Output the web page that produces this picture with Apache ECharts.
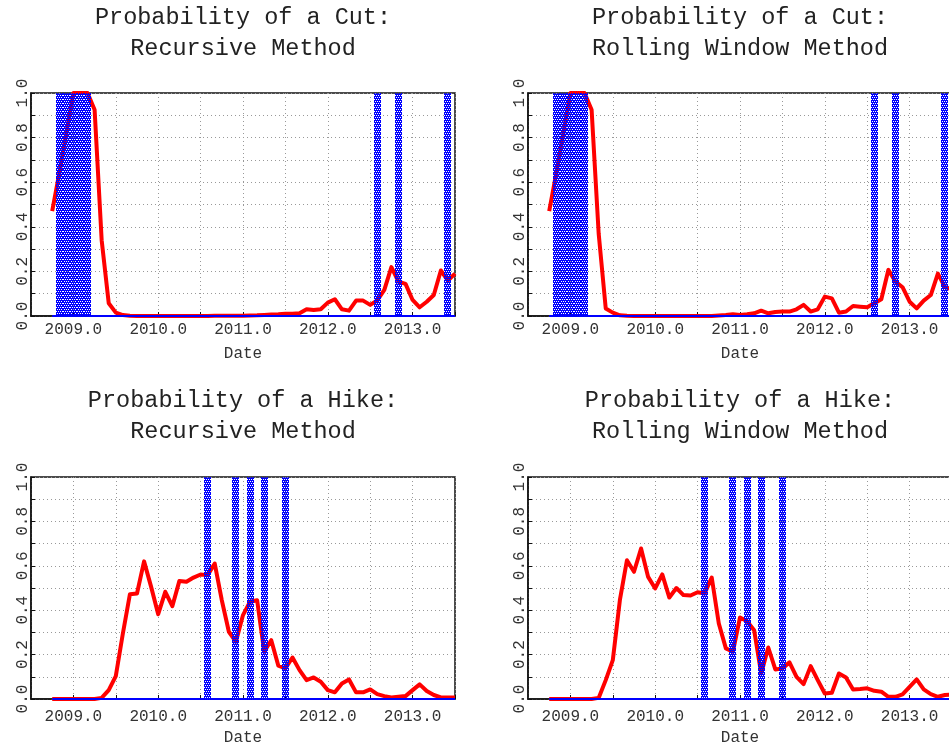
<!DOCTYPE html>
<html>
<head>
<meta charset="utf-8">
<script src="https://cdn.jsdelivr.net/npm/echarts@6/dist/echarts.min.js"></script>
<style>
html,body{margin:0;padding:0;background:#fff;}
#chart{width:949px;height:748px;}
</style>
</head>
<body>
<div id="chart"></div>
<script>
// Monthly observation dates (decimal years), Oct 2008 .. Jul 2013
const dates = [
  2008.75, 2008+10/12, 2008+11/12,
  2009, 2009+1/12, 2009+2/12, 2009+3/12, 2009+4/12, 2009+5/12, 2009+6/12, 2009+7/12, 2009+8/12, 2009+9/12, 2009+10/12, 2009+11/12,
  2010, 2010+1/12, 2010+2/12, 2010+3/12, 2010+4/12, 2010+5/12, 2010+6/12, 2010+7/12, 2010+8/12, 2010+9/12, 2010+10/12, 2010+11/12,
  2011, 2011+1/12, 2011+2/12, 2011+3/12, 2011+4/12, 2011+5/12, 2011+6/12, 2011+7/12, 2011+8/12, 2011+9/12, 2011+10/12, 2011+11/12,
  2012, 2012+1/12, 2012+2/12, 2012+3/12, 2012+4/12, 2012+5/12, 2012+6/12, 2012+7/12, 2012+8/12, 2012+9/12, 2012+10/12, 2012+11/12,
  2013, 2013+1/12, 2013+2/12, 2013+3/12, 2013+4/12, 2013+5/12, 2013+6/12
];

const cutRecursive = [
  0.47, 0.64, 0.82,
  1.0, 1.0, 1.0, 0.925, 0.34, 0.057, 0.015, 0.004, 0.001, 0, 0, 0,
  0, 0, 0, 0, 0, 0, 0, 0, 0.001, 0.001, 0.001, 0.001,
  0.001, 0.002, 0.003, 0.005, 0.007, 0.008, 0.01, 0.01, 0.012, 0.03, 0.027, 0.03,
  0.06, 0.075, 0.03, 0.024, 0.069, 0.069, 0.05, 0.07, 0.117, 0.219, 0.154, 0.144,
  0.072, 0.039, 0.064, 0.094, 0.204, 0.159, 0.19
];
const cutRolling = [
  0.47, 0.64, 0.82,
  1.0, 1.0, 1.0, 0.925, 0.37, 0.034, 0.015, 0.003, 0.001, 0, 0, 0,
  0, 0, 0, 0, 0, 0, 0, 0, 0, 0.002, 0.004, 0.008,
  0.005, 0.008, 0.012, 0.024, 0.012, 0.018, 0.02, 0.02, 0.03, 0.05, 0.02, 0.03,
  0.087, 0.079, 0.015, 0.02, 0.045, 0.042, 0.039, 0.057, 0.075, 0.207, 0.154, 0.129,
  0.064, 0.034, 0.069, 0.094, 0.19, 0.13, 0.12
];
const hikeRecursive = [
  0, 0, 0,
  0, 0, 0, 0, 0.005, 0.04, 0.103, 0.295, 0.472, 0.475, 0.62, 0.505,
  0.382, 0.483, 0.418, 0.532, 0.528, 0.547, 0.561, 0.558, 0.61, 0.445, 0.303, 0.258,
  0.378, 0.438, 0.445, 0.213, 0.265, 0.15, 0.138, 0.187, 0.13, 0.085, 0.097, 0.078,
  0.04, 0.03, 0.07, 0.088, 0.03, 0.03, 0.043, 0.022, 0.013, 0.007, 0.01, 0.013,
  0.04, 0.066, 0.036, 0.018, 0.007, 0.007, 0.007
];
const hikeRolling = [
  0, 0, 0,
  0, 0, 0, 0, 0.005, 0.085, 0.175, 0.445, 0.625, 0.573, 0.678, 0.55,
  0.498, 0.561, 0.457, 0.5, 0.468, 0.466, 0.481, 0.475, 0.547, 0.34, 0.228, 0.213,
  0.367, 0.35, 0.31, 0.115, 0.232, 0.133, 0.138, 0.165, 0.1, 0.067, 0.148, 0.085,
  0.025, 0.028, 0.115, 0.097, 0.043, 0.045, 0.048, 0.037, 0.033, 0.01, 0.01, 0.021,
  0.055, 0.088, 0.043, 0.022, 0.01, 0.018, 0.02
];

// Months in which a policy move occurred (shaded)
const cutEvents = [2008+10/12, 2008+11/12, 2009, 2009+1/12, 2009+2/12, 2012+7/12, 2012+10/12, 2013+5/12];
const hikeEvents = [2010+7/12, 2010+11/12, 2011+1/12, 2011+3/12, 2011+6/12];

const titles = [
  'Probability of a Cut:\nRecursive Method',
  'Probability of a Cut:\nRolling Window Method',
  'Probability of a Hike:\nRecursive Method',
  'Probability of a Hike:\nRolling Window Method'
];
const xLabelName = 'Date';
const yTicks = ['0.0', '0.2', '0.4', '0.6', '0.8', '1.0'];

const FONT = 'Liberation Mono';
const grids = [
  {left: 31, top: 93, width: 424, height: 223},
  {left: 528, top: 93, width: 424, height: 223},
  {left: 31, top: 477, width: 424, height: 222},
  {left: 528, top: 477, width: 424, height: 222}
];
const panels = [
  {vals: cutRecursive, events: cutEvents},
  {vals: cutRolling, events: cutEvents},
  {vals: hikeRecursive, events: hikeEvents},
  {vals: hikeRolling, events: hikeEvents}
];
const halfMonth = 1/24;
const SHADE = '#0000ff';

// shaded month: blue hatch built from 1px rows, every other row dotted (holes let underlying marks show)
function renderShade(params, api) {
  const e = api.value(0);
  const a = api.coord([e - halfMonth, 1]);
  const b = api.coord([e + halfMonth, 0]);
  const x0 = Math.round(a[0]), x1 = Math.round(b[0]);
  const y0 = Math.round(a[1]), y1 = Math.round(b[1]);
  const children = [];
  for (let y = y0; y < y1; y++) {
    const k = y - y0;
    const dotted = k % 2 === 0;
    children.push({
      type: 'line',
      shape: {x1: x0, y1: y + 0.5, x2: x1, y2: y + 0.5},
      style: {
        stroke: SHADE, lineWidth: 1,
        lineDash: dotted ? [1, 1] : null,
        lineDashOffset: dotted ? ((k % 4 === 0) ? 0 : 1) : 0
      },
      silent: true
    });
  }
  return {type: 'group', children: children};
}

const option = {
  animation: false,
  backgroundColor: '#fff',
  title: titles.map((t, i) => ({
    text: t,
    left: grids[i].left + grids[i].width / 2,
    top: i < 2 ? 2 : 385,
    padding: 0,
    textAlign: 'center',
    textStyle: {fontFamily: FONT, fontSize: 23.5, fontWeight: 'normal', color: '#222', lineHeight: 31}
  })),
  grid: grids.map(g => Object.assign({show: true, borderColor: '#111', borderWidth: 1.5, backgroundColor: '#fff', outerBoundsMode: 'none', containLabel: false}, g)),
  xAxis: grids.map((g, i) => ({
    type: 'value', gridIndex: i, min: 2008.5, max: 2013.5, interval: 0.5,
    name: xLabelName, nameLocation: 'middle', nameGap: i < 2 ? 30 : 31,
    nameTextStyle: {fontFamily: FONT, fontSize: 16, color: '#333'},
    axisLine: {show: true, lineStyle: {color: '#111', width: 1.5}},
    axisTick: {show: true, inside: true, length: 4, lineStyle: {color: '#111'}},
    axisLabel: {
      fontFamily: FONT, fontSize: 16, color: '#333', margin: i < 2 ? 6 : 10,
      showMinLabel: false, showMaxLabel: true,
      formatter: v => Math.abs(v - Math.round(v)) < 1e-6 ? v.toFixed(1) : ''
    },
    splitLine: {show: true, lineStyle: {color: '#999', type: [1, 3], width: 1}}
  })),
  yAxis: grids.map((g, i) => ({
    type: 'value', gridIndex: i, min: 0, max: 1, interval: 0.1,
    axisLine: {show: true, lineStyle: {color: '#111', width: 1.5}},
    axisTick: {show: true, inside: true, length: 4, lineStyle: {color: '#111'}},
    axisLabel: {
      fontFamily: FONT, fontSize: 16, color: '#333', rotate: 90, margin: 0,
      formatter: v => {
        const k = Math.round(v * 10);
        return k % 2 === 0 ? yTicks[k / 2] : '';
      }
    },
    splitLine: {show: true, lineStyle: {color: '#999', type: [1, 3], width: 1}}
  })),
  series: []
};

panels.forEach((p, i) => {
  option.series.push({
    type: 'line', xAxisIndex: i, yAxisIndex: i, z: 2,
    data: dates.map((d, k) => [d, p.vals[k]]),
    showSymbol: false, clip: false,
    lineStyle: {color: '#ff0000', width: 4, join: 'round'}
  });
  option.series.push({
    type: 'custom', xAxisIndex: i, yAxisIndex: i, z: 3, silent: true,
    data: p.events.map(e => [e]),
    encode: {x: 0},
    renderItem: renderShade
  });
  option.series.push({
    type: 'line', xAxisIndex: i, yAxisIndex: i, z: 4,
    data: [[dates[0], 0], [dates[dates.length - 1], 0]],
    showSymbol: false, clip: false,
    lineStyle: {color: '#0000ff', width: 2}
  });
});

const chart = echarts.init(document.getElementById('chart'), null, {renderer: 'canvas'});
chart.setOption(option);
</script>
</body>
</html>
